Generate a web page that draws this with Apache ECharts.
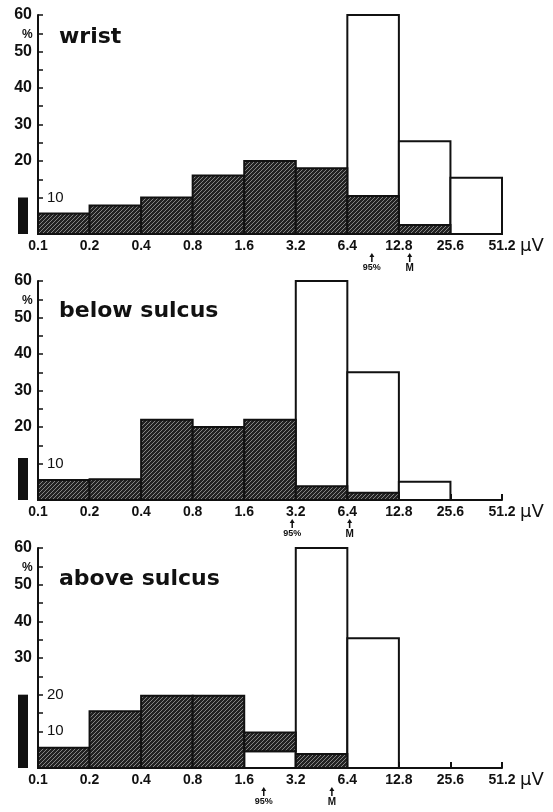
<!DOCTYPE html>
<html>
<head>
    <meta charset="utf-8">
    <title>Amplitude histograms</title>
    <script src="https://cdn.jsdelivr.net/npm/echarts@6/dist/echarts.min.js"></script>
    <style>
        html, body { margin: 0; padding: 0; background: #fff; }
        #chart-container { width: 553px; height: 812px; }
    </style>
</head>
<body>
<div id="chart-container"></div>
<script>
    // bin edges on the x axis (µV, doubling)
    const edges = ['0.1', '0.2', '0.4', '0.8', '1.6', '3.2', '6.4', '12.8', '25.6', '51.2'];
    const panelNames = ['wrist', 'below sulcus', 'above sulcus'];

    // % per bin, hatched (dark) and open (white) histograms
    const darkWrist  = [5.6, 7.8, 10, 16, 20, 18, 10.4, 2.5, 0];
    const whiteWrist = [0, 0, 0, 0, 0, 0, 60, 25.4, 15.4];
    const darkBelow  = [5.5, 5.7, 22, 20, 22, 3.8, 2, 0, 0];
    const whiteBelow = [0, 0, 0, 0, 0, 60, 35, 5, 0];
    const darkAbove  = [5.5, 15.5, 19.7, 19.7, 9.7, 3.8, 0, 0, 0];
    const whiteAbove = [0, 0, 0, 0, 4.6, 60, 35.4, 0, 0];
    // bins where the hatched bar sits on top of the open one
    const darkOnWhite = [[], [], [4]];

    // calibration bar height (%) drawn left of each axis
    const scaleBars = [10, 11.5, 20];

    // arrows under the axis (µV)
    const markers95 = [8.9, 3.05, 2.08];
    const markersM  = [14.8, 6.6, 5.2];

    // which y labels sit outside / inside the axis
    const outerLabels = [[20, 30, 40, 50, 60], [20, 30, 40, 50, 60], [30, 40, 50, 60]];
    const innerLabels = [[10], [10], [10, 20]];

    const darks = [darkWrist, darkBelow, darkAbove];
    const whites = [whiteWrist, whiteBelow, whiteAbove];

    const chartDom = document.getElementById('chart-container');
    const myChart = echarts.init(chartDom, null, { renderer: 'canvas' });

    // hatch pattern for the dark bars
    const tile = document.createElement('canvas');
    tile.width = 4;
    tile.height = 4;
    const tc = tile.getContext('2d');
    tc.fillStyle = '#222';
    tc.fillRect(0, 0, 4, 4);
    tc.strokeStyle = '#858585';
    tc.lineWidth = 1;
    tc.beginPath();
    tc.moveTo(0, 4); tc.lineTo(4, 0);
    tc.moveTo(-1, 1); tc.lineTo(1, -1);
    tc.moveTo(3, 5); tc.lineTo(5, 3);
    tc.stroke();
    const hatch = { image: tile, repeat: 'repeat' };

    const gridTops = [15, 281, 548];
    const gridH = [219, 219, 220];
    const font = 'Liberation Sans';

    const grids = [], xAxes = [], yAxes = [], series = [], titles = [];

    gridTops.forEach((top, p) => {
        grids.push({ left: 38, top: top, width: 464, height: gridH[p], outerBoundsMode: 'none' });

        xAxes.push({
            type: 'value', gridIndex: p, min: 0, max: 9, interval: 1,
            axisLine: { lineStyle: { color: '#111', width: 2 } },
            axisTick: { inside: true, length: 6, lineStyle: { color: '#111', width: 2 } },
            splitLine: { show: false },
            axisLabel: {
                margin: 5, color: '#111', fontFamily: font, fontWeight: 'bold', fontSize: 14,
                formatter: v => edges[v]
            },
            name: 'µV', nameLocation: 'end', nameGap: 18,
            nameTextStyle: { color: '#111', fontFamily: 'DejaVu Sans', fontSize: 18, verticalAlign: 'top', padding: [3, 0, 0, 0] }
        });

        yAxes.push({
            type: 'value', gridIndex: p, position: 'left', min: 0, max: 60, interval: 5,
            axisLine: { show: true, lineStyle: { color: '#111', width: 2 } },
            axisTick: { inside: true, length: 5, lineStyle: { color: '#111', width: 1.5 } },
            splitLine: { show: false },
            axisLabel: {
                margin: 6, color: '#111', fontFamily: font, fontWeight: 'bold', fontSize: 16,
                formatter: v => outerLabels[p].includes(v) ? String(v) : ''
            }
        });
        yAxes.push({
            type: 'value', gridIndex: p, position: 'left', offset: 0, min: 0, max: 60, interval: 5,
            axisLine: { show: false }, axisTick: { show: false }, splitLine: { show: false },
            axisLabel: {
                inside: true, margin: 9, color: '#111', fontFamily: font, fontSize: 15,
                formatter: v => innerLabels[p].includes(v) ? String(v) : ''
            }
        });

        // bar rects: [bin, from, to, kind]  kind 0 = open, 1 = hatched
        const rects = [];
        whites[p].forEach((v, i) => { if (v > 0) rects.push([i, 0, v, 0]); });
        darks[p].forEach((v, i) => {
            if (v <= 0) return;
            const base = darkOnWhite[p].includes(i) ? whites[p][i] : 0;
            rects.push([i, base, v, 1]);
        });

        series.push({
            type: 'custom', xAxisIndex: p, yAxisIndex: p * 2,
            data: rects,
            renderItem: (params, api) => {
                const i = api.value(0);
                const a = api.coord([i, api.value(1)]);
                const b = api.coord([i + 1, api.value(2)]);
                return {
                    type: 'rect',
                    shape: { x: a[0], y: b[1], width: b[0] - a[0], height: a[1] - b[1] },
                    style: { fill: api.value(3) ? hatch : '#fff', stroke: '#111', lineWidth: 2 }
                };
            }
        });

        // calibration bar
        series.push({
            type: 'custom', xAxisIndex: p, yAxisIndex: p * 2, clip: false, silent: true,
            data: [[0, scaleBars[p]]],
            renderItem: (params, api) => {
                const o = api.coord([0, 0]);
                const t = api.coord([0, api.value(1)]);
                return {
                    type: 'rect',
                    shape: { x: o[0] - 20, y: t[1], width: 10, height: o[1] - t[1] },
                    style: { fill: '#111' }
                };
            }
        });

        // 95% and M arrows
        const marks = [[Math.log2(markers95[p] / 0.1), '95%'], [Math.log2(markersM[p] / 0.1), 'M']];
        series.push({
            type: 'custom', xAxisIndex: p, yAxisIndex: p * 2, clip: false, silent: true,
            data: marks.map(m => [m[0], 0]),
            renderItem: (params, api) => {
                const c = api.coord([api.value(0), 0]);
                const label = marks[params.dataIndex][1];
                return {
                    type: 'group',
                    children: [
                        { type: 'line', shape: { x1: c[0], y1: c[1] + 21, x2: c[0], y2: c[1] + 28 }, style: { stroke: '#111', lineWidth: 1.5 } },
                        { type: 'polygon', shape: { points: [[c[0], c[1] + 19], [c[0] - 2.5, c[1] + 23], [c[0] + 2.5, c[1] + 23]] }, style: { fill: '#111' } },
                        { type: 'text', x: c[0], y: c[1] + 34, style: {
                            text: label, fill: '#111', align: 'center', verticalAlign: 'middle',
                            font: 'bold ' + (label === 'M' ? 10 : 9) + 'px ' + font
                        } }
                    ]
                };
            }
        });

        titles.push({
            text: panelNames[p], left: 54, top: top + [6, 14, 15][p],
            textStyle: { fontFamily: 'DejaVu Sans', fontWeight: 'bold', fontSize: 22, color: '#111' }
        });
        titles.push({
            text: '%', left: 17, top: top + 9,
            textStyle: { fontFamily: font, fontWeight: 'bold', fontSize: 12, color: '#111' }
        });
    });

    const option = {
        animation: false,
        backgroundColor: '#fff',
        title: titles,
        grid: grids,
        xAxis: xAxes,
        yAxis: yAxes,
        series: series
    };

    myChart.setOption(option);

    window.addEventListener('resize', function () {
        myChart.resize();
    });
</script>
</body>
</html>
